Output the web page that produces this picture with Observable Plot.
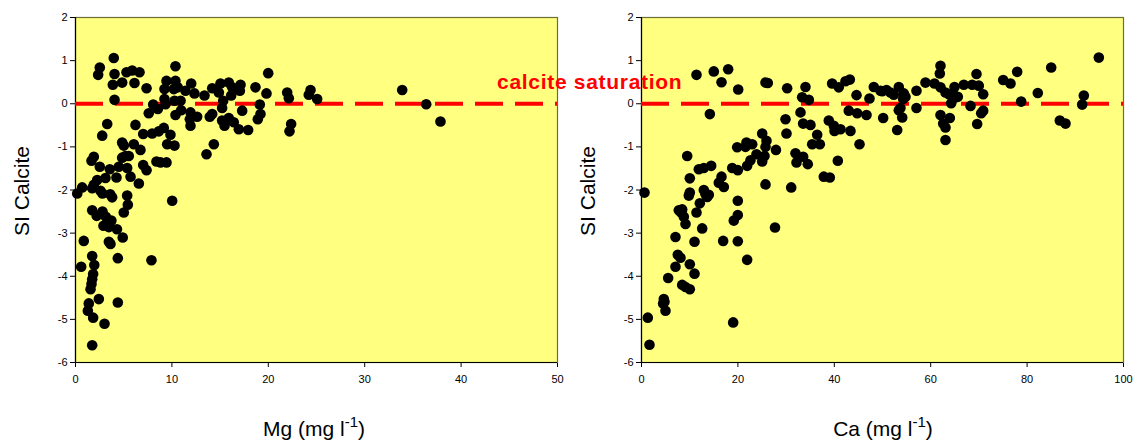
<!DOCTYPE html>
<html><head><meta charset="utf-8">
<script src="https://cdn.jsdelivr.net/npm/d3@7"></script>
<script src="https://cdn.jsdelivr.net/npm/@observablehq/plot@0.6"></script>
<style>
body{margin:0;background:#fff;font-family:"Liberation Sans",Arial,sans-serif;}
#wrap{position:relative;width:1136px;height:441px;overflow:hidden;}
#left{position:absolute;left:0;top:0}
#right{position:absolute;left:568px;top:0}
#sat{position:absolute;left:497px;top:69px;color:#ff0000;font-weight:bold;font-size:21px;letter-spacing:0.7px;white-space:nowrap;line-height:25px;}
</style></head>
<body><div id="wrap"><div id="left"></div><div id="right"></div><div id="sat">calcite saturation</div></div>
<script>
// ---- data ----
const siTicks = [-6, -5, -4, -3, -2, -1, 0, 1, 2];
const mgTicks = [0, 10, 20, 30, 40, 50];
const caTicks = [0, 20, 40, 60, 80, 100];
const saturation = [0];

// [Mg mg/l, SI calcite]
const mgPoints = [
[3.97,1.06],[2.52,0.84],[2.35,0.67],[4.05,0.69],[3.87,0.44],[4.84,0.49],[5.29,0.73],[5.88,0.77],[6.64,0.73],[6.12,0.48],[7.37,0.36],[4.05,0.09],
[3.29,-0.47],[2.77,-0.74],[6.22,-0.49],[7.6,-0.22],[7.02,-0.70],[8.06,-0.02],[8.54,-0.12],[7.95,-0.69],[8.64,-0.64],[9.16,-0.56],[9.85,-0.72],[9.51,-0.94],[10.27,-0.97],
[4.84,-0.90],[5.01,-0.97],[6.05,-0.94],[6.74,-1.07],[5.19,-1.21],[5.53,-1.21],[4.84,-1.25],
[1.9,-1.23],[1.66,-1.32],[2.52,-1.46],[3.56,-1.52],[4.49,-1.46],[5.36,-1.49],[7.02,-1.42],[7.37,-1.54],[8.40,-1.34],[8.82,-1.36],[9.44,-1.36],
[4.25,-1.71],[5.71,-1.69],[6.57,-1.85],[3.11,-1.72],[2.25,-1.77],[1.9,-1.88],[1.73,-1.96],[0.69,-1.94],[0.18,-2.08],[2.59,-2.02],[2.8,-2.08],[3.6,-2.1],[3.80,-2.17],[5.36,-2.13],[5.43,-2.34],[5.01,-2.52],[10.03,-2.25],
[1.73,-2.47],[2.2,-2.6],[2.8,-2.5],[3.15,-2.62],[3.72,-2.71],[2.9,-2.83],[3.46,-2.86],[4.3,-2.91],[0.86,-3.18],[3.46,-3.2],[3.63,-3.25],[4.9,-3.1],
[4.39,-3.58],[7.88,-3.63],[1.73,-3.53],[1.95,-3.74],[0.59,-3.78],[1.83,-3.95],[1.73,-4.07],[1.66,-4.18],[1.56,-4.30],[2.42,-4.53],[1.38,-4.63],[1.28,-4.80],[4.39,-4.61],[1.83,-4.96],[3.01,-5.10],[1.73,-5.60],
[9.23,0.34],[9.44,0.53],[10.37,0.87],[10.37,0.53],[10.2,0.34],[10.6,0.38],[9.23,0.11],[10.27,0.07],[10.9,0.07],[9.34,-0.01],[10.37,-0.26],[10.96,-0.15],[11.41,0.30],[12.0,0.47],[12.34,0.24],[11.93,-0.2],[11.86,-0.36],[11.93,-0.51],[12.62,-0.30],[13.38,0.19],[13.59,-1.17],[14.35,-0.94],
[14.18,0.36],[14.87,0.26],[15.04,0.47],[15.9,0.49],[16.25,0.38],[17.12,0.44],[17.05,0.30],[16.15,0.19],[15.32,0.07],[15.21,-0.10],[14.18,-0.24],[13.93,-0.30],[15.21,-0.39],[15.46,-0.51],[15.9,-0.33],[16.42,-0.43],[16.94,-0.59],[17.91,-0.61],[17.29,-0.16],
[18.67,0.38],[19.12,-0.02],[19.19,-0.24],[18.91,-0.36],[19.81,0.24],[19.99,0.71],[21.96,0.26],[22.13,0.13],[22.37,-0.47],[22.2,-0.64],[24.38,0.32],[24.2,0.21],[25.07,0.11],[33.89,0.32],[36.38,-0.01],[37.86,-0.41]
];

// [Ca mg/l, SI calcite]
const caPoints = [
[0.62,-2.06],[1.31,-4.96],[1.66,-5.59],[4.63,-4.53],[4.49,-4.63],[4.77,-4.59],[4.98,-4.80],[5.53,-4.04],[7.05,-3.78],[7.53,-3.50],[8.09,-3.57],[7.05,-3.09],[7.74,-2.47],[8.24,-2.52],[8.44,-2.45],[8.78,-2.62],[9.13,-2.79],[8.44,-4.2],[9.13,-4.25],[10.02,-4.30],[10.02,-3.72],[11.0,-3.94],[11.0,-3.20],[11.41,-2.52],[12.1,-2.31],[12.59,-2.89],[9.82,-2.13],[10.02,-2.06],[12.93,-2.0],[13.28,-2.10],[13.63,-2.16],[13.96,-2.11],[10.02,-1.73],[9.48,-1.21],[11.89,-1.52],[12.93,-1.49],[14.46,-1.44],[14.18,-0.24],[11.41,0.67],[15.0,0.75],[17.98,0.80],[16.6,0.50],[20.06,0.33],
[16.6,-1.69],[16.04,-1.83],[17.08,-1.93],[18.82,-1.49],[19.98,-1.54],[19.98,-2.25],[19.98,-2.58],[19.15,-2.71],[19.98,-3.19],[16.94,-3.18],[21.92,-3.62],[19.02,-5.07],[27.7,-2.87],
[19.85,-1.01],[21.78,-0.90],[21.58,-1.0],[22.97,-0.94],[21.92,-1.44],[22.61,-1.31],[23.86,-1.17],[25.04,-1.34],[25.52,-1.21],[25.04,-0.69],[25.93,-0.86],[25.73,-1.0],[25.73,-1.87],[27.9,-1.07],[25.73,0.49],[26.2,0.48],
[30.22,0.36],[29.88,-0.36],[30.08,-0.69],[31.06,-1.94],[31.95,-1.15],[33.54,-1.23],[32.16,-1.36],[34.5,-1.40],[32.99,-0.2],[33.54,-0.46],[35.06,-0.49],[36.45,-0.72],[35.41,-0.94],[37.0,-0.94],[34.02,0.39],[33.33,0.15],[34.72,0.09],[37.82,-1.69],[39.07,-1.71],
[39.55,0.47],[40.93,0.38],[42.32,0.52],[43.22,0.56],[44.61,0.20],[38.86,-0.39],[39.9,-0.51],[40.04,-0.63],[41.29,-0.59],[43.36,-0.63],[43.0,-0.16],[44.75,-0.22],[40.73,-1.32],[45.23,-0.94],
[47.3,0.12],[48.2,0.39],[49.59,0.30],[46.68,-0.26],[49.94,0.29],[50.83,0.32],[51.66,0.26],[52.35,0.21],[53.38,0.39],[54.42,0.24],[54.77,0.16],[54.29,0.11],[50.14,-0.33],[53.05,-0.61],[53.38,-0.15],[53.73,-0.10],[54.09,-0.32],[57.05,0.30],[57.05,-0.10],
[58.92,0.49],[60.79,0.47],[62.03,0.38],[63.07,0.26],[63.76,0.22],[64.67,0.22],[64.94,0.39],[65.62,0.16],[66.87,0.44],[68.61,0.44],[69.98,0.42],[70.89,0.22],[62.03,0.88],[61.89,0.70],[69.5,0.69],[64.8,0.13],[64.25,0.01],[62.03,-0.26],[62.59,-0.46],[63.07,-0.55],[63.97,-0.33],[63.07,-0.84],[68.26,-0.05],[70.89,-0.16],[70.48,-0.22],[69.64,-0.47],
[75.04,0.55],[76.56,0.47],[77.94,0.74],[78.77,0.05],[82.22,0.25],[85.0,0.84],[86.79,-0.39],[87.97,-0.46],[91.77,0.19],[91.43,-0.02],[94.88,1.07]
];

const font = "Liberation Sans, Arial, sans-serif";

function panel(points, xDomain, xTicks, ml, mr, species, labelX, ylabelX) {
  const svg = Plot.plot({
    width: 568, height: 441,
    marginLeft: ml, marginRight: mr, marginTop: 17, marginBottom: 79,
    style: {fontFamily: font, fontSize: "11px", color: "#000", background: "transparent", overflow: "visible"},
    x: {domain: xDomain, ticks: xTicks, tickSize: 5, tickPadding: 8, label: null, tickFormat: d => String(d)},
    y: {domain: [-6, 2], ticks: siTicks, tickSize: 5, tickPadding: 3, label: null, tickFormat: d => String(d)},
    marks: [
      Plot.frame({fill: "#ffff80", stroke: "#6e6e3a", strokeWidth: 1.2}),
      Plot.ruleX([xDomain[0]], {stroke: "#000", strokeWidth: 1.2}),
      Plot.ruleY([-6], {stroke: "#000", strokeWidth: 1.2}),
      Plot.ruleY(saturation, {stroke: "#ff0000", strokeWidth: 4, strokeDasharray: "28,12"}),
      Plot.dot(points, {x: d => d[0], y: d => d[1], r: 5.3, fill: "#000", stroke: "none"})
    ]
  });
  const s = d3.select(svg);
  const t = s.append("text").attr("x", labelX).attr("y", 436)
    .attr("text-anchor", "middle").attr("font-size", 21).attr("font-family", font).attr("fill", "#000");
  t.append("tspan").text(species + " (mg l");
  t.append("tspan").attr("dy", -9).attr("font-size", 15).text("-1");
  t.append("tspan").attr("dy", 9).text(")");
  s.append("text").attr("transform", `translate(${ylabelX},191) rotate(-90)`)
    .attr("text-anchor", "middle").attr("font-size", 21).attr("font-family", font).attr("fill", "#000")
    .text("SI Calcite");
  return svg;
}

document.getElementById("left").appendChild(panel(mgPoints, [0, 50], mgTicks, 75, 11, "Mg", 314, 29));
document.getElementById("right").appendChild(panel(caPoints, [0, 100], caTicks, 73, 13, "Ca", 315, 27));
</script>
</body></html>
